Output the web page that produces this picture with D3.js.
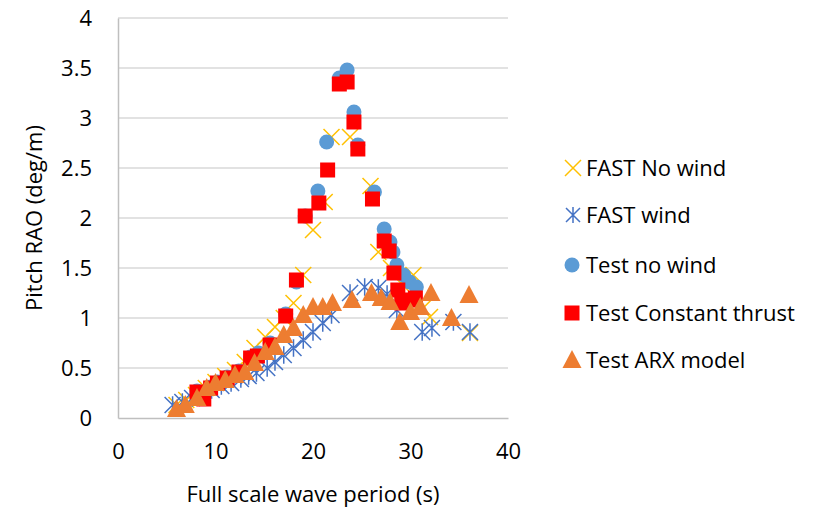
<!DOCTYPE html>
<html><head><meta charset="utf-8">
<script src="https://cdn.jsdelivr.net/npm/d3@7"></script>
<style>body{margin:0;background:#fff}svg{display:block}text{font-family:"Open Sans",sans-serif;fill:#000}</style>
</head><body><svg id="c" width="833" height="507"></svg>
<script>
const xTicks = [0,10,20,30,40];
const yTicks = [0,0.5,1,1.5,2,2.5,3,3.5,4];
const yTickLabels = ["0","0.5","1","1.5","2","2.5","3","3.5","4"];
const seriesNames = ["FAST No wind","FAST wind","Test no wind","Test Constant thrust","Test ARX model"];

const fastNoWindT   = [6,7,8,9,10,11,12,13,14,15.1,16.1,17,18,19,20,21.2,21.9,23.8,25.9,26.7,28,29,30.3,31.3,32,36.1];
const fastNoWindRAO = [0.13,0.18,0.23,0.3,0.36,0.42,0.48,0.56,0.7,0.81,0.91,1.0,1.15,1.43,1.88,2.16,2.81,2.81,2.32,1.66,1.5,1.35,1.43,1.1,1.01,0.85];

const fastWindT   = [5.6,6.6,7.6,8.6,9.6,10.6,11.6,12.6,13.4,14.2,15.3,16.1,17,18,19,20,21,21.9,23.8,25.3,26.7,27.6,28.6,31.2,32.2,34.4,36.1];
const fastWindRAO = [0.13,0.16,0.2,0.24,0.28,0.32,0.35,0.39,0.42,0.45,0.5,0.56,0.63,0.7,0.78,0.86,0.95,1.03,1.25,1.31,1.3,1.24,1.08,0.86,0.9,0.96,0.86];

const testNoWindT   = [8.1,8.8,9.5,10.2,11.2,12.4,13.6,14.4,15.6,17.2,18.3,19.2,20.5,21.4,22.7,23.5,24.2,24.6,26.3,27.3,27.9,28.2,28.6,29.3,29.9,30.6];
const testNoWindRAO = [0.27,0.21,0.31,0.36,0.41,0.47,0.61,0.65,0.75,1.04,1.36,2.02,2.27,2.76,3.4,3.48,3.06,2.73,2.26,1.89,1.76,1.66,1.53,1.43,1.36,1.31];

const testThrustT   = [8.1,8.8,9.5,10.2,11.2,12.4,13.6,14.3,15.6,17.2,18.3,19.2,20.6,21.5,22.7,23.5,24.2,24.6,26.1,27.3,27.8,28.3,28.7,29.1,29.9,30.5];
const testThrustRAO = [0.26,0.19,0.3,0.35,0.4,0.46,0.6,0.62,0.73,1.02,1.38,2.02,2.15,2.48,3.34,3.36,2.96,2.69,2.19,1.77,1.67,1.45,1.28,1.15,1.18,1.2];

const testArxT   = [6.0,6.9,8.1,9.1,10,11,12,13,14,15.1,16.1,17,18,19,20,21,22,24,26,27,27.9,28.9,30,31,32.1,34.2,36];
const testArxRAO = [0.09,0.13,0.2,0.3,0.35,0.38,0.43,0.46,0.55,0.66,0.71,0.83,0.9,1.03,1.11,1.11,1.15,1.18,1.25,1.2,1.16,0.96,1.06,1.11,1.25,1.0,1.23];

const svg = d3.select("#c");
const x = d3.scaleLinear().domain([0,40]).range([118,508]);
const y = d3.scaleLinear().domain([0,4]).range([418,18]);
const FS = 22;

// gridlines
svg.append("g").selectAll("line").data(yTicks.filter(d=>d>0)).join("line")
  .attr("x1",x(0)).attr("x2",x(40)).attr("y1",d=>y(d)).attr("y2",d=>y(d))
  .attr("stroke","#d9d9d9").attr("stroke-width",1.5);

// axes
const xAxis = d3.axisBottom(x).tickValues(xTicks).tickSize(0).tickPadding(25);
const gx = svg.append("g").attr("transform",`translate(0,${y(0)})`).call(xAxis);
gx.select(".domain").attr("stroke","#bfbfbf").attr("stroke-width",1.5);
gx.selectAll("text").attr("font-size",FS).attr("font-family","Open Sans").attr("fill","#000");

const yAxis = d3.axisLeft(y).tickValues(yTicks).tickFormat((d,i)=>yTickLabels[i]).tickSize(0).tickPadding(26);
const gy = svg.append("g").attr("transform",`translate(${x(0)},0)`).call(yAxis);
gy.select(".domain").attr("stroke","#bfbfbf").attr("stroke-width",1.5);
gy.selectAll("text").attr("font-size",FS).attr("font-family","Open Sans").attr("fill","#000");

svg.append("text").attr("x",313).attr("y",502).attr("text-anchor","middle").attr("font-size",FS).text("Full scale wave period (s)");
svg.append("text").attr("transform","translate(42,218) rotate(-90)").attr("text-anchor","middle").attr("font-size",FS).text("Pitch RAO (deg/m)");

// markers
function drawMarker(g, type, cx, cy) {
  if (type==="x") {
    const s=8;
    g.append("path").attr("d",`M${cx-s},${cy-s}L${cx+s},${cy+s}M${cx-s},${cy+s}L${cx+s},${cy-s}`)
      .attr("stroke","#ffc000").attr("stroke-width",1.5).attr("fill","none");
  } else if (type==="ast") {
    const s=8;
    g.append("path").attr("d",`M${cx-s},${cy-s}L${cx+s},${cy+s}M${cx-s},${cy+s}L${cx+s},${cy-s}M${cx},${cy-s*1.1}L${cx},${cy+s*1.1}`)
      .attr("stroke","#4472c4").attr("stroke-width",1.5).attr("fill","none");
  } else if (type==="circle") {
    g.append("circle").attr("cx",cx).attr("cy",cy).attr("r",7.5).attr("fill","#5b9bd5");
  } else if (type==="square") {
    g.append("rect").attr("x",cx-7.5).attr("y",cy-7.5).attr("width",15).attr("height",15).attr("fill","#ff0000");
  } else if (type==="tri") {
    g.append("path").attr("d",`M${cx},${cy-10}L${cx+9.5},${cy+8}L${cx-9.5},${cy+8}Z`).attr("fill","#ed7d31");
  }
}
const series = [
  {t:fastNoWindT, v:fastNoWindRAO, m:"x"},
  {t:fastWindT, v:fastWindRAO, m:"ast"},
  {t:testNoWindT, v:testNoWindRAO, m:"circle"},
  {t:testThrustT, v:testThrustRAO, m:"square"},
  {t:testArxT, v:testArxRAO, m:"tri"}
];
series.forEach(s=>{
  const g = svg.append("g");
  s.t.forEach((t,i)=>drawMarker(g, s.m, x(t), y(s.v[i])));
});

// legend
const legY = [168,215,265,313,360];
const leg = svg.append("g");
series.forEach((s,i)=>{
  const g = leg.append("g");
  if (s.m==="x") {
    g.append("path").attr("d",`M${565},${legY[i]-8}L${581},${legY[i]+8}M${565},${legY[i]+8}L${581},${legY[i]-8}`).attr("stroke","#ffc000").attr("stroke-width",1.5);
  } else if (s.m==="ast") {
    g.append("path").attr("d",`M${566},${legY[i]-7}L${580},${legY[i]+7}M${566},${legY[i]+7}L${580},${legY[i]-7}M${573},${legY[i]-8}L${573},${legY[i]+8}`).attr("stroke","#4472c4").attr("stroke-width",1.5);
  } else drawMarker(g, s.m, 572, legY[i]);
  g.append("text").attr("x",586).attr("y",legY[i]+8).attr("font-size",FS).text(seriesNames[i]);
});
</script></body></html>
